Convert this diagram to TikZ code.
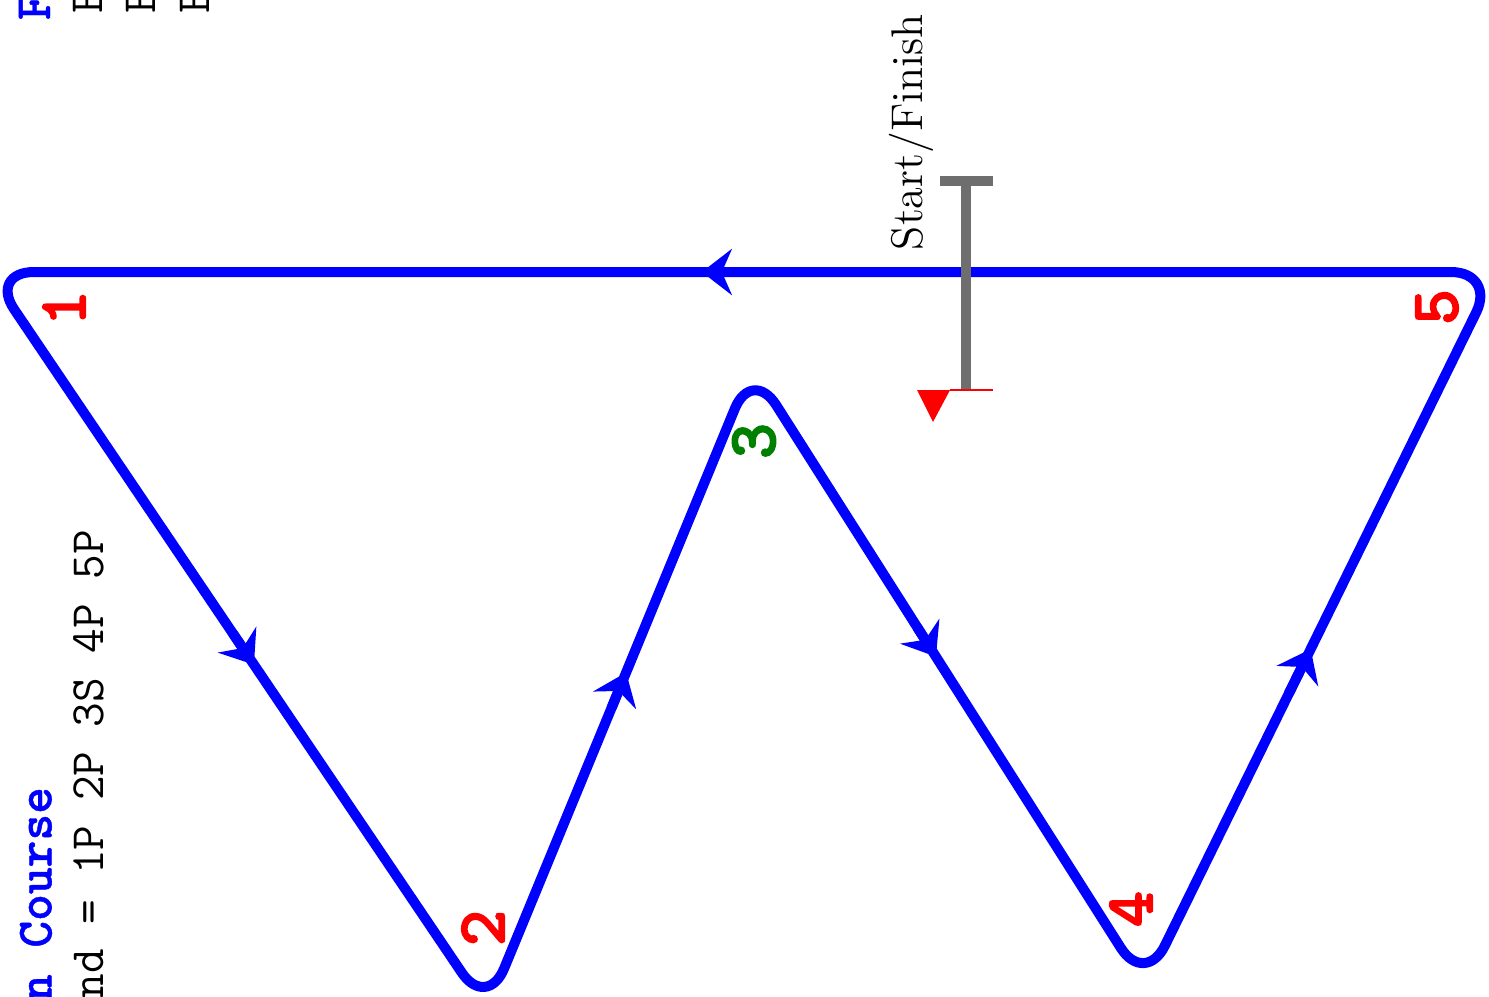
\documentclass[tikz,border=0pt]{standalone}
\usepackage{fontspec}
\newfontface\markfont{lmmonolt10-bold.otf}[FakeBold=2.2]
\newfontface\headfont{lmmonolt10-bold.otf}[FakeBold=0.8]
\usetikzlibrary{arrows.meta,calc}
\definecolor{cblue}{RGB}{0,0,255}
\definecolor{cred}{RGB}{255,0,0}
\definecolor{cgreen}{RGB}{0,128,0}
\definecolor{cgray}{RGB}{110,110,110}
\tikzset{
  course/.style={draw=cblue,line width=0.1cm,rounded corners=0.45cm,line join=round},
  crsarrow/.style={draw=cblue,line width=0.1cm,-{Stealth[length=0.3cm,width=0.46cm,inset=0.1cm]}},
  pinline/.style={draw=cgray,line width=0.1cm},
  rot/.style={rotate=90,inner sep=0pt,outer sep=0pt},
  marknum/.style={rot,font=\fontsize{19.5}{21}\markfont},
  headtxt/.style={rot,font=\fontsize{14.5}{16}\headfont,text=cblue},
  ttline/.style={rot,font=\fontsize{13.6}{15}\selectfont\ttfamily},
  rmtxt/.style={rot,font=\fontsize{12.6}{15}\selectfont}
}
\begin{document}
\begin{tikzpicture}[x=0.01cm,y=-0.01cm]
\useasboundingbox (0,0) rectangle (1489,996);
\clip (0,0) rectangle (1489,996);
% course marks (corner points)
\coordinate (m1) at (-11,272);
\coordinate (m2) at (487,1010);
\coordinate (m3) at (752,367);
\coordinate (m4) at (1145,986);
\coordinate (m5) at (1496,272);
\coordinate (s) at (300,272);
\draw[course] (s) -- (m1) -- (m2) -- (m3) -- (m4) -- (m5) -- (s);
% direction arrows
\draw[crsarrow] ($(m1)!0.49!(m2)$) -- ($(m1)!0.532!(m2)$);
\draw[crsarrow] ($(m2)!0.47!(m3)$) -- ($(m2)!0.525!(m3)$);
\draw[crsarrow] ($(m3)!0.42!(m4)$) -- ($(m3)!0.468!(m4)$);
\draw[crsarrow] ($(m4)!0.41!(m5)$) -- ($(m4)!0.472!(m5)$);
\draw[crsarrow] ($(m5)!0.48!(m1)$) -- ($(m5)!0.527!(m1)$);
% start / finish line
\coordinate (barL) at (940,181);
\coordinate (barR) at (993,181);
\coordinate (pinT) at (966,181);
\coordinate (pinB) at (966,389);
\coordinate (triL) at (917,390);
\coordinate (triR) at (950,390);
\coordinate (triA) at (933,422);
\coordinate (lineR) at (993,390);
\draw[pinline] (barL) -- (barR);
\draw[pinline] (pinT) -- (pinB);
\fill[cred] (triL) -- (triR) -- (triA) -- cycle;
\draw[cred,line width=0.6pt] (triR) -- (lineR);
\node[rmtxt,anchor=base west] (sf) at (922.5,250) {Start/Finish};
% mark numbers
\node[marknum,text=cred] (n1) at (64,308) {1};
\node[marknum,text=cred] (n2) at (483,928) {2};
\node[marknum,text=cgreen] (n3) at (754,441) {3};
\node[marknum,text=cred] (n4) at (1131,909) {4};
\node[marknum,text=cred] (n5) at (1437,307) {5};
% texts cut by the page edge
\node[headtxt,anchor=base east] (title) at (51.5,787) {n Course};
\node[ttline,anchor=base east] (rounds) at (103.5,530) {nd = 1P 2P 3S 4P 5P};
\node[headtxt,anchor=base west] (head2) at (50,20) {F};
\node[ttline,anchor=base west] (r1) at (102,13) {E};
\node[ttline,anchor=base west] (r2) at (155,13) {E};
\node[ttline,anchor=base west] (r3) at (209,13) {E};
\end{tikzpicture}
\end{document}
